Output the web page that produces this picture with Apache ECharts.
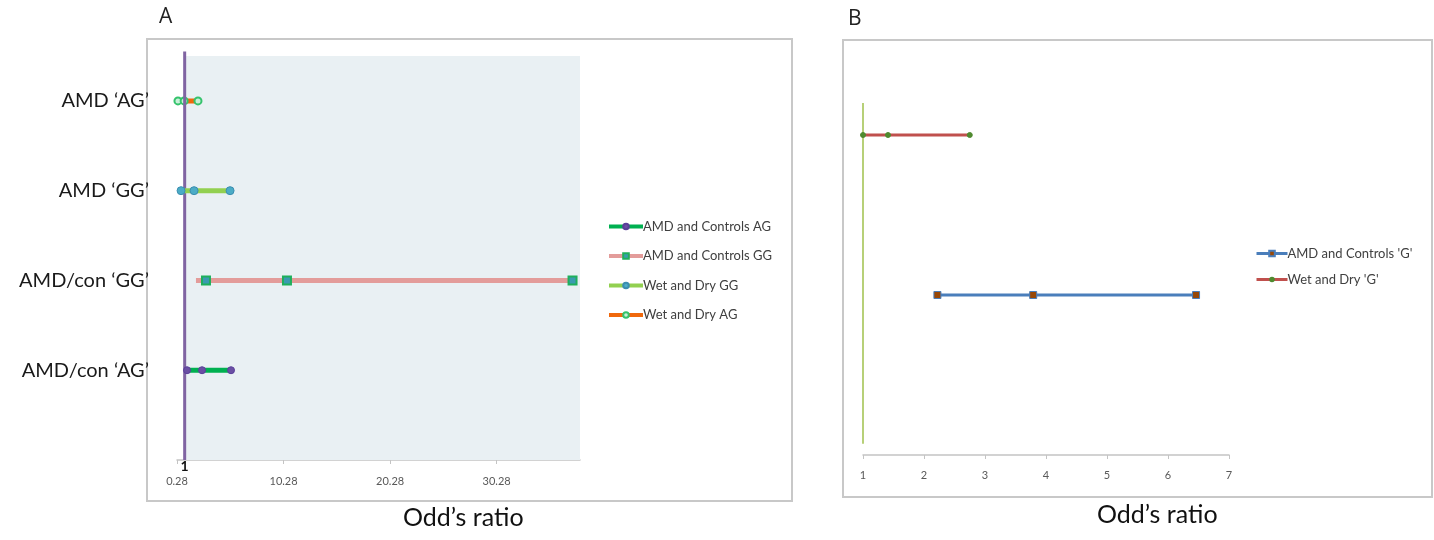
<!DOCTYPE html>
<html>
<head>
<meta charset="utf-8">
<script src="https://cdn.jsdelivr.net/npm/echarts@6/dist/echarts.min.js"></script>
<style>
  html, body { margin: 0; padding: 0; background: #fff; }
  #chart { width: 1434px; height: 540px; }
</style>
</head>
<body>
<div id="chart"></div>
<script>
// panel A rows, bottom to top (row 0 is the empty baseline)
var rowsA = ['', 'AMD/con \u2018AG\u2019', 'AMD/con \u2018GG\u2019', 'AMD \u2018GG\u2019', 'AMD \u2018AG\u2019'];
var ticksA = [0.28, 10.28, 20.28, 30.28];

// odds ratio points (lower, OR, upper)
var amdConAG = [1.22, 2.63, 5.35];
var amdConGG = [2.06, 3.0, 10.6, 37.4];
var wetDryGG = [0.66, 1.88, 5.26];
var wetDryAG = [0.37, 0.95, 2.25];

// panel B
var amdConG = [2.22, 3.79, 6.46];
var wetDryG = [1.0, 1.41, 2.75];
var ticksB = [1, 2, 3, 4, 5, 6, 7];

var font = 'Lato, "Open Sans", sans-serif';

function onRow(values, row) {
    return values.map(function (v) { return [v, row]; });
}

var chart = echarts.init(document.getElementById('chart'));

var option = {
    animation: false,
    textStyle: { fontFamily: font },
    grid: [
        { left: 177, right: 854, top: 56, bottom: 80 },
        { left: 863, right: 205, top: 95, bottom: 85 }
    ],
    xAxis: [{
        gridIndex: 0,
        type: 'value',
        min: ticksA[0],
        max: 38.1,
        interval: 10,
        axisLine: { lineStyle: { color: '#c4c4c4', width: 1.5 } },
        axisTick: { length: 4, lineStyle: { color: '#c4c4c4' } },
        splitLine: { show: false },
        axisLabel: {
            color: '#595959', fontSize: 11, margin: 16,
            showMaxLabel: false,
            formatter: function (v) {
                for (var i = 0; i < ticksA.length; i++) {
                    if (Math.abs(v - ticksA[i]) < 1e-6) return ticksA[i].toFixed(2);
                }
                return '';
            }
        }
    }, {
        gridIndex: 1,
        type: 'value',
        min: ticksB[0],
        max: ticksB[ticksB.length - 1],
        interval: 1,
        axisLine: { lineStyle: { color: '#c4c4c4', width: 1.5 } },
        axisTick: { length: 4, lineStyle: { color: '#c4c4c4' } },
        splitLine: { show: false },
        axisLabel: { color: '#595959', fontSize: 11, margin: 15 }
    }],
    yAxis: [{
        gridIndex: 0,
        type: 'value',
        min: 0,
        max: 4.5,
        interval: 1,
        axisLine: { show: false },
        axisTick: { show: false },
        splitLine: { show: false },
        axisLabel: {
            color: '#1a1a1a', fontSize: 20, margin: 28,
            formatter: function (v) { return rowsA[v] || ''; }
        }
    }, {
        gridIndex: 1,
        type: 'value',
        min: 0,
        max: 2.25,
        show: false
    }],
    legend: [{
        data: ['AMD and Controls AG', 'AMD and Controls GG', 'Wet and Dry GG', 'Wet and Dry AG'],
        orient: 'vertical',
        left: 607,
        top: 220,
        padding: 0,
        itemWidth: 34,
        itemHeight: 7,
        itemGap: 16.5,
        lineStyle: { width: 4 },
        textStyle: { color: '#404040', fontSize: 13, padding: [0, 0, 0, -5] }
    }, {
        data: ["AMD and Controls 'G'", "Wet and Dry 'G'"],
        orient: 'vertical',
        left: 1255,
        top: 247,
        padding: 0,
        itemWidth: 31,
        itemHeight: 7,
        itemGap: 13,
        lineStyle: { width: 3 },
        textStyle: { color: '#404040', fontSize: 13, padding: [0, 0, 0, -5] }
    }],
    series: [{
        name: 'ref1',
        type: 'line',
        xAxisIndex: 0, yAxisIndex: 0,
        data: [
            { value: [1, 0], symbol: 'circle', symbolSize: 1,
              label: { show: true, position: 'bottom', distance: -1, formatter: '1',
                       color: '#111', fontSize: 14, fontWeight: 'bold' } },
            { value: [1, 4.55], symbol: 'none' }
        ],
        clip: false,
        lineStyle: { color: '#8064a2', width: 3 },
        itemStyle: { color: 'rgba(0,0,0,0)' },
        z: 5,
        markArea: {
            silent: true,
            itemStyle: { color: '#e9f0f3' },
            data: [[{ xAxis: 1 }, { xAxis: 38.1 }]]
        }
    }, {
        name: 'AMD and Controls AG',
        type: 'line',
        xAxisIndex: 0, yAxisIndex: 0,
        data: onRow(amdConAG, 1),
        lineStyle: { color: '#00b050', width: 5 },
        symbol: 'circle', symbolSize: 7,
        itemStyle: { color: '#6a4fa3', borderColor: '#5b3f9a', borderWidth: 1 },
        z: 6
    }, {
        name: 'AMD and Controls GG',
        type: 'line',
        xAxisIndex: 0, yAxisIndex: 0,
        data: onRow(amdConGG, 2).map(function (d, i) {
            return i === 0 ? { value: d, symbol: 'none' } : d;
        }),
        lineStyle: { color: '#e39c9a', width: 5 },
        symbol: 'rect', symbolSize: 8,
        itemStyle: { color: '#3a9bb0', borderColor: '#1faf5c', borderWidth: 2 },
        z: 6
    }, {
        name: 'Wet and Dry GG',
        type: 'line',
        xAxisIndex: 0, yAxisIndex: 0,
        data: onRow(wetDryGG, 3),
        lineStyle: { color: '#92d050', width: 5 },
        symbol: 'circle', symbolSize: 8,
        itemStyle: { color: '#4bacc6', borderColor: '#3b8db0', borderWidth: 1 },
        z: 6
    }, {
        name: 'Wet and Dry AG',
        type: 'line',
        xAxisIndex: 0, yAxisIndex: 0,
        data: onRow(wetDryAG, 4),
        lineStyle: { color: '#f0680c', width: 5 },
        symbol: 'circle', symbolSize: 7,
        itemStyle: { color: '#c8f0d8', borderColor: '#35c36c', borderWidth: 2 },
        z: 4
    }, {
        name: 'ref2',
        type: 'line',
        xAxisIndex: 1, yAxisIndex: 1,
        data: [[1, 0.07], [1, 2.2]],
        symbol: 'none',
        lineStyle: { color: '#b7d078', width: 2 },
        z: 3
    }, {
        name: "AMD and Controls 'G'",
        type: 'line',
        xAxisIndex: 1, yAxisIndex: 1,
        data: onRow(amdConG, 1),
        lineStyle: { color: '#4a7ebb', width: 3 },
        symbol: 'rect', symbolSize: 7,
        itemStyle: { color: '#984807', borderColor: '#4a7ebb', borderWidth: 1 },
        z: 6
    }, {
        name: "Wet and Dry 'G'",
        type: 'line',
        xAxisIndex: 1, yAxisIndex: 1,
        data: onRow(wetDryG, 2),
        lineStyle: { color: '#c0504d', width: 3 },
        symbol: 'circle', symbolSize: 5,
        itemStyle: { color: '#4f8a2f', borderColor: '#4f8a2f' },
        z: 6
    }],
    graphic: [
        { type: 'rect', silent: true, z: -10,
          shape: { x: 147, y: 39, width: 645, height: 462 },
          style: { fill: 'none', stroke: '#c8c8c8', lineWidth: 2 } },
        { type: 'rect', silent: true, z: -10,
          shape: { x: 843, y: 40, width: 589, height: 457 },
          style: { fill: 'none', stroke: '#c8c8c8', lineWidth: 2 } },
        { type: 'text', left: 159, top: 7,
          style: { text: 'A', font: '21px "Open Sans", sans-serif', fill: '#222' } },
        { type: 'text', left: 848, top: 9,
          style: { text: 'B', font: '21px "Open Sans", sans-serif', fill: '#222' } },
        { type: 'text', left: 403, top: 505,
          style: { text: 'Odd\u2019s ratio', font: '25px Lato, sans-serif', fill: '#111' } },
        { type: 'text', left: 1097, top: 502,
          style: { text: 'Odd\u2019s ratio', font: '25px Lato, sans-serif', fill: '#111' } }
    ]
};

chart.setOption(option);
window.addEventListener('resize', function () {
    chart.resize();
});
</script>
</body>
</html>
